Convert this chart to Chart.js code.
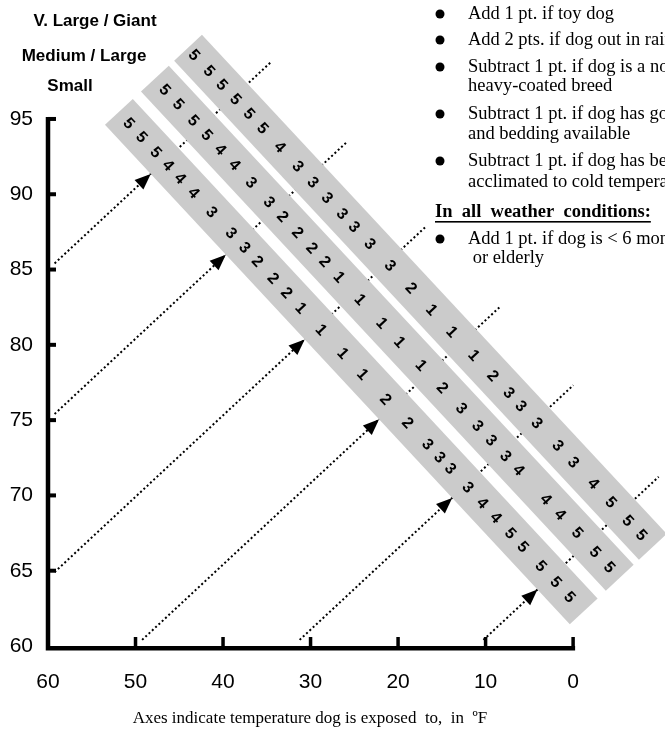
<!DOCTYPE html>
<html>
<head>
<meta charset="utf-8">
<script src="https://cdn.jsdelivr.net/npm/chart.js@4.4.0/dist/chart.umd.min.js"></script>
<style>
  html, body { margin: 0; padding: 0; background: #fff; }
  #wrap { width: 665px; height: 733px; }
</style>
</head>
<body>
<div id="wrap"><canvas id="myChart" width="665" height="733"></canvas></div>
<script>
// tick labels, degrees F (bottom axis runs cold, left axis runs hot)
var xTicks = [60, 50, 40, 30, 20, 10, 0];
var yTicks = [60, 65, 70, 75, 80, 85, 90, 95];

// band centre lines (x = cold scale, y = hot scale)
var bandNames = ["Small", "Medium / Large", "V. Large / Giant"];
var bandStart = [{x: 51.9, y: 95.47}, {x: 47.79, y: 97.68}, {x: 44.0, y: 99.73}];
var bandEnd = [{x: -1.21, y: 62.30}, {x: -5.33, y: 64.53}, {x: -9.11, y: 66.58}];

// scores along each band and the temperature each one sits at
var smallScores = [5,5,5,4,4,4,3,3,3,2,2,2,1,1,1,1,2,2,3,3,3,3,4,4,5,5,5,5,5];
var smallTemps = [89.7,88.0,86.1,84.5,82.9,81.1,78.7,76.1,74.3,72.6,70.5,68.7,66.8,64.1,61.2,57.4,51.7,46.3,41.4,38.4,35.8,31.5,27.9,24.6,21.0,17.9,13.5,9.8,6.4];
var mediumScores = [5,5,5,5,4,4,3,3,2,2,2,2,1,1,1,1,1,2,3,3,3,3,4,4,4,5,5,5];
var mediumTemps = [89.7,87.9,85.9,84.1,82.3,80.4,78.2,75.8,74.0,72.0,70.1,68.4,66.5,63.7,60.8,57.1,51.8,46.6,41.9,37.9,34.6,31.0,27.8,21.1,17.6,13.4,9.0,5.5];
var largeScores = [5,5,5,5,5,5,4,3,3,3,3,3,3,3,2,1,1,1,2,3,3,3,3,3,4,5,5,5];
var largeTemps = [90.2,88.2,86.5,84.7,82.9,81.1,78.8,76.4,74.4,72.5,70.5,68.9,66.8,64.1,61.3,57.4,52.4,47.0,42.3,38.4,35.4,31.5,26.3,22.5,17.6,13.3,9.1,5.8];

// temperatures with a dotted pointer arrow
var arrowTemps = [85, 75, 64.5, 50, 32, 11];

var notes = [
  {bullet: true, text: "Add 1 pt. if toy dog", y: 14},
  {bullet: true, text: "Add 2 pts. if dog out in rain or wet", y: 40},
  {bullet: true, text: "Subtract 1 pt. if dog is a northern or", y: 67},
  {bullet: false, text: "heavy-coated breed", y: 86},
  {bullet: true, text: "Subtract 1 pt. if dog has good shelter", y: 114},
  {bullet: false, text: "and bedding available", y: 134},
  {bullet: true, text: "Subtract 1 pt. if dog has been", y: 161},
  {bullet: false, text: "acclimated to cold temperatures", y: 182},
  {heading: true, text: "In  all  weather  conditions:", y: 212},
  {bullet: true, text: "Add 1 pt. if dog is < 6 months old", y: 239},
  {bullet: false, text: " or elderly", y: 258}
];

var BAND_W = 38;
var tickFont = "'Liberation Sans Narrow', 'Liberation Sans', Arial, sans-serif";

function axisPoint(chart, t) {
  var xs = chart.scales.x, ys = chart.scales.y;
  return {
    x: xs.getPixelForValue(t >= 60 ? 60 : t),
    y: ys.getPixelForValue(t >= 60 ? t : 60)
  };
}

function bandGeom(chart, i) {
  var pts = chart.getDatasetMeta(i).data;
  var a = {x: pts[0].x, y: pts[0].y}, b = {x: pts[1].x, y: pts[1].y};
  var len = Math.hypot(b.x - a.x, b.y - a.y);
  var u = {x: (b.x - a.x) / len, y: (b.y - a.y) / len};
  return {a: a, u: u, n: {x: u.y, y: -u.x}};
}

function offsetTo(g, p) {
  return (g.a.x - p.x) * g.n.x + (g.a.y - p.y) * g.n.y;
}

var diagramPlugin = {
  id: "diagram",
  beforeDatasetsDraw: function(chart) {
    var ctx = chart.ctx;
    var g0 = bandGeom(chart, 0), g2 = bandGeom(chart, 2);
    ctx.save();
    ctx.strokeStyle = "#000";
    ctx.lineWidth = 2;
    ctx.setLineDash([2, 2.5]);
    arrowTemps.forEach(function(t) {
      var p = axisPoint(chart, t);
      var n = g0.n;
      var k0 = 9;
      var k1 = offsetTo(g2, p) + BAND_W / 2 + 33;
      ctx.beginPath();
      ctx.moveTo(p.x + n.x * k0, p.y + n.y * k0);
      ctx.lineTo(p.x + n.x * k1, p.y + n.y * k1);
      ctx.stroke();
    });
    ctx.restore();
  },
  afterDatasetsDraw: function(chart) {
    var ctx = chart.ctx;
    var scoreSets = [[smallScores, smallTemps], [mediumScores, mediumTemps], [largeScores, largeTemps]];
    ctx.save();
    ctx.fillStyle = "#000";
    ctx.font = "bold 16px 'Liberation Sans', Arial, sans-serif";
    ctx.textAlign = "center";
    ctx.textBaseline = "middle";
    scoreSets.forEach(function(set, i) {
      var g = bandGeom(chart, i);
      var ang = Math.atan2(g.u.y, g.u.x);
      set[0].forEach(function(score, k) {
        var p = axisPoint(chart, set[1][k]);
        var s = (p.x - g.a.x) * g.u.x + (p.y - g.a.y) * g.u.y;
        ctx.save();
        ctx.translate(g.a.x + g.u.x * s, g.a.y + g.u.y * s);
        ctx.rotate(ang);
        ctx.fillText(String(score), 0, 1);
        ctx.restore();
      });
    });

    // arrow heads touching the small band
    var g0 = bandGeom(chart, 0);
    arrowTemps.forEach(function(t) {
      var p = axisPoint(chart, t);
      var n = g0.n, u = g0.u;
      var k = offsetTo(g0, p) - BAND_W / 2;
      var tip = {x: p.x + n.x * k, y: p.y + n.y * k};
      var L = 16, W = 6.5;
      ctx.beginPath();
      ctx.moveTo(tip.x, tip.y);
      ctx.lineTo(tip.x - n.x * L + u.x * W, tip.y - n.y * L + u.y * W);
      ctx.lineTo(tip.x - n.x * L - u.x * W, tip.y - n.y * L - u.y * W);
      ctx.closePath();
      ctx.fill();
    });
    ctx.restore();
  },
  afterDraw: function(chart) {
    var ctx = chart.ctx;
    var xs = chart.scales.x, ys = chart.scales.y;
    var x0 = xs.getPixelForValue(60), y0 = ys.getPixelForValue(60);
    ctx.save();
    ctx.strokeStyle = "#000";
    ctx.lineCap = "butt";
    // axis lines
    ctx.lineWidth = 4.5;
    ctx.beginPath();
    ctx.moveTo(x0, ys.getPixelForValue(95) - 2);
    ctx.lineTo(x0, y0 + 2.25);
    ctx.lineTo(xs.getPixelForValue(0) + 2, y0 + 2.25);
    ctx.stroke();
    // tick marks inside the axes
    ctx.lineWidth = 4;
    yTicks.forEach(function(v) {
      if (v === 60) return;
      var y = ys.getPixelForValue(v);
      ctx.beginPath();
      ctx.moveTo(x0, y);
      ctx.lineTo(x0 + 8, y);
      ctx.stroke();
    });
    ctx.lineWidth = 3.5;
    xTicks.forEach(function(v) {
      if (v === 60) return;
      var x = xs.getPixelForValue(v);
      ctx.beginPath();
      ctx.moveTo(x, y0);
      ctx.lineTo(x, y0 - 9);
      ctx.stroke();
    });

    // band names (top left)
    ctx.fillStyle = "#000";
    ctx.font = "bold 17px 'Liberation Sans', Arial, sans-serif";
    ctx.textAlign = "center";
    ctx.textBaseline = "middle";
    ctx.fillText(bandNames[2], 95, 21);
    ctx.fillText(bandNames[1], 84, 56);
    ctx.fillText(bandNames[0], 70, 86);

    // notes (top right)
    ctx.textAlign = "left";
    notes.forEach(function(nt) {
      if (nt.heading) {
        ctx.font = "bold 18.5px 'Liberation Serif', 'Times New Roman', serif";
        ctx.fillText(nt.text, 435, nt.y);
        var w = ctx.measureText(nt.text).width;
        ctx.fillRect(435, nt.y + 9, w, 1.6);
        return;
      }
      ctx.font = "18.5px 'Liberation Serif', 'Times New Roman', serif";
      if (nt.bullet) {
        ctx.beginPath();
        ctx.arc(440, nt.y, 4.5, 0, Math.PI * 2);
        ctx.fill();
      }
      ctx.fillText(nt.text, 468, nt.y);
    });

    // axis caption
    ctx.textAlign = "center";
    ctx.font = "17px 'Liberation Serif', 'Times New Roman', serif";
    ctx.fillText("Axes indicate temperature dog is exposed  to,  in  \u00baF", 310, 719);
    ctx.restore();
  }
};

var datasets = bandStart.map(function(p, i) {
  return {
    label: bandNames[i],
    data: [p, bandEnd[i]],
    showLine: true,
    borderColor: "#cbcbcb",
    borderWidth: BAND_W,
    borderCapStyle: "butt",
    pointRadius: 0,
    clip: false
  };
});

var ctx = document.getElementById("myChart").getContext("2d");
var chart = new Chart(ctx, {
  type: "scatter",
  data: { datasets: datasets },
  options: {
    responsive: false,
    animation: false,
    events: [],
    layout: { padding: 0 },
    plugins: { legend: { display: false }, tooltip: { enabled: false } },
    scales: {
      x: {
        type: "linear",
        reverse: true,
        min: -10.5,
        max: 60,
        grid: { display: false, drawTicks: false },
        border: { display: false },
        afterBuildTicks: function(scale) {
          scale.ticks = xTicks.map(function(v) { return {value: v}; });
        },
        afterFit: function(scale) {
          scale.height = 87;
          scale.paddingLeft = 0;
          scale.paddingRight = 0;
        },
        ticks: {
          color: "#000",
          padding: 24,
          maxRotation: 0,
          font: { family: tickFont, size: 21 },
          callback: function(v) { return String(v); }
        }
      },
      y: {
        type: "linear",
        min: 60,
        max: 102.9,
        grid: { display: false, drawTicks: false },
        border: { display: false },
        afterBuildTicks: function(scale) {
          scale.ticks = yTicks.map(function(v) { return {value: v}; });
        },
        afterFit: function(scale) {
          scale.width = 48;
          scale.paddingTop = 0;
          scale.paddingBottom = 0;
        },
        ticks: {
          color: "#000",
          padding: 15,
          font: { family: tickFont, size: 21 },
          callback: function(v) { return String(v); }
        }
      }
    }
  },
  plugins: [diagramPlugin]
});
</script>
</body>
</html>
